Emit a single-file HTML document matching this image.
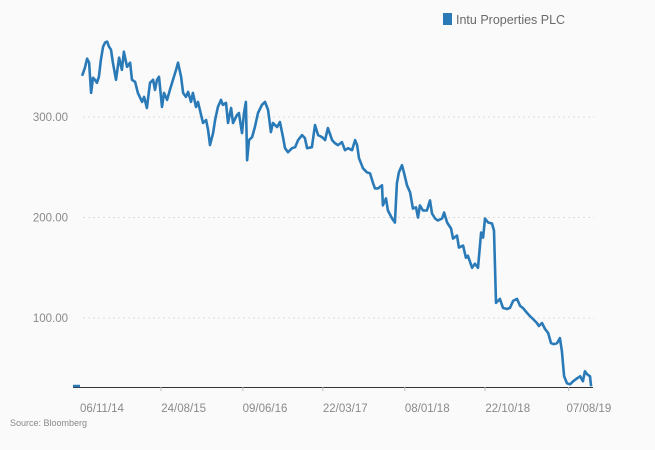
<!DOCTYPE html>
<html><head><meta charset="utf-8"><style>
html,body{margin:0;padding:0;background:#fafafa;}
svg{display:block;font-family:"Liberation Sans",sans-serif;}
</style></head><body>
<svg id="chart" width="655" height="450">
<rect width="655" height="450" fill="#fafafa"/>
<g>
<rect x="443" y="13" width="9" height="12" fill="#2a7ab8"/>
<text x="456" y="24" font-size="12.5" fill="#6a6a6a">Intu Properties PLC</text>
</g>
<g id="grid"></g>
<g id="yticks"></g>
<g id="xticks"></g>
<g id="series"></g>
<text x="10" y="426" font-size="9" fill="#888">Source: Bloomberg</text>
</svg>
<script>
const dayOffsets = [-71,-61,-53,-46,-39,-32,-25,-18,-11,-4,4,11,18,25,32,39,50,61,71,78,89,100,107,118,128,143,150,160,171,182,189,196,203,214,221,232,242,253,264,271,282,289,299,307,317,324,335,342,349,360,371,378,385,396,403,413,424,431,442,449,460,467,481,488,499,506,513,517,524,535,545,556,570,581,592,602,609,624,634,645,652,663,677,688,699,713,723,731,748,759,770,784,795,805,820,830,841,855,866,877,891,902,909,916,930,944,955,966,973,984,998,1001,1012,1019,1034,1044,1051,1058,1069,1076,1087,1098,1108,1119,1126,1133,1144,1158,1169,1176,1187,1197,1212,1219,1230,1244,1251,1265,1272,1287,1297,1304,1319,1329,1340,1351,1358,1365,1376,1390,1397,1404,1418,1429,1443,1454,1465,1479,1490,1500,1515,1525,1536,1550,1557,1568,1579,1590,1600,1611,1622,1632,1639,1647,1657,1668,1679,1693,1704,1714,1721,1729,1739,1743];
const prices = [341,349,358,354,324,339,337,334,340,357,370,374,375,370,367,354,337,359,347,365,350,354,337,335,324,315,320,309,334,337,327,337,340,310,324,317,327,337,347,354,340,324,320,325,315,324,310,315,307,294,297,287,272,284,297,310,317,312,314,294,309,294,302,304,284,304,315,257,277,280,290,304,312,315,307,285,294,290,295,280,269,265,269,270,277,282,279,269,270,292,282,280,277,289,277,274,272,275,267,269,267,277,272,259,249,245,244,234,229,229,232,212,219,207,199,195,234,245,252,245,232,225,209,210,200,212,207,207,217,204,199,197,199,205,195,189,179,182,170,172,160,162,150,154,150,185,180,199,195,194,187,115,119,110,109,110,117,119,112,110,105,102,99,95,92,95,89,85,75,74,75,80,67,42,35,34,37,40,42,37,47,44,42,32];
const yTickValues = [100,200,300];
const yTickLabels = ["100.00","200.00","300.00"];
const xTickDays = [0,291,581,867,1159,1446,1735];
const xTickLabels = ["06/11/14","24/08/15","09/06/16","22/03/17","08/01/18","22/10/18","07/08/19"];
const axisTickDays = [210,502,787,1079,1365,1663];

const NS="http://www.w3.org/2000/svg";
function xScale(d){return 102 + d*0.2806;}
function yScale(v){return 117 + (300-v)*1.005;}
function mk(tag,attrs,parent){const e=document.createElementNS(NS,tag);for(const k in attrs)e.setAttribute(k,attrs[k]);parent.appendChild(e);return e;}

const grid=document.getElementById('grid');
const yt=document.getElementById('yticks');
yTickValues.forEach((v,i)=>{
  const l=mk('line',{x1:83,x2:594,y1:yScale(v),y2:yScale(v),stroke:'#dcdcdc','stroke-width':1,'stroke-dasharray':'2,3'},grid);
  
  
  const t=mk('text',{x:68,y:yScale(v)+4,'text-anchor':'end','font-size':'11.5',fill:'#8a8a8a'},yt);
  t.textContent=yTickLabels[i];
  
  
});
const xt=document.getElementById('xticks');
const axis=mk('line',{x1:73,x2:593,y1:387.5,y2:387.5,stroke:'#333','stroke-width':1},xt);


axisTickDays.forEach(d=>{
  const tk=mk('line',{x1:xScale(d),x2:xScale(d),y1:387,y2:391,stroke:'#bbb','stroke-width':1},xt);
  
  
});
xTickDays.forEach((d,i)=>{
  const t=mk('text',{x:xScale(d),y:412,'text-anchor':'middle','font-size':'11.5',fill:'#8a8a8a'},xt);
  t.textContent=xTickLabels[i];
  
  
});
const ser=document.getElementById('series');
const stub=mk('line',{x1:73,x2:80,y1:386,y2:386,stroke:'#2a7ab8','stroke-width':2.5},ser);


let dstr='';
dayOffsets.forEach((d,i)=>{dstr+=(i?'L':'M')+xScale(d).toFixed(1)+' '+Math.min(387,yScale(prices[i])).toFixed(1);});
const path=mk('path',{d:dstr,fill:'none',stroke:'#2a7ab8','stroke-width':2.6,'stroke-linejoin':'round'},ser);


</script>
</body></html>
